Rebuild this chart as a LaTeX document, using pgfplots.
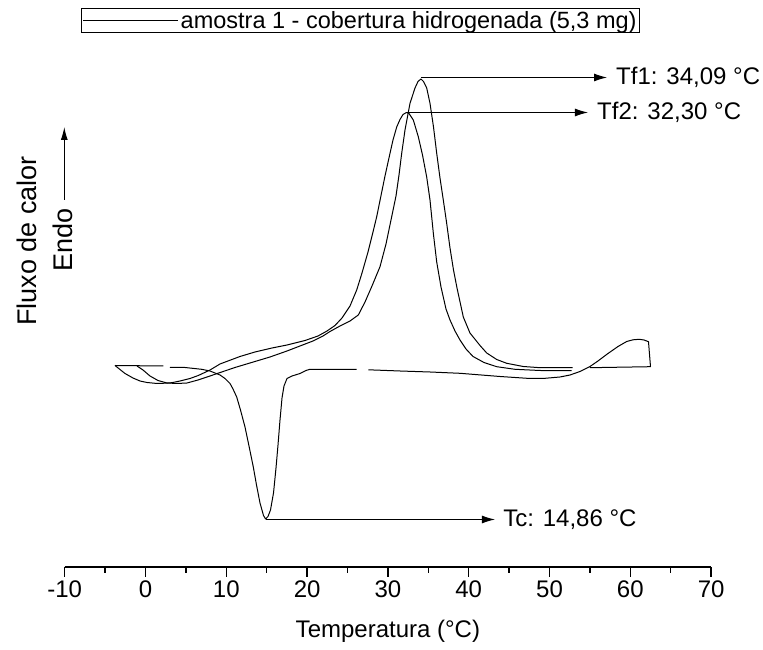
\documentclass[border=0pt]{standalone}
\usepackage{fontspec}
\setmainfont{Liberation Sans}
\usepackage{pgfplots}
\pgfplotsset{compat=1.18}
\usetikzlibrary{arrows.meta}
\begin{document}
\begin{tikzpicture}
\useasboundingbox (0,0) rectangle (763pt,650pt);
\begin{axis}[
  at={(64.7pt,83pt)}, anchor=south west,
  scale only axis, width=646.4pt, height=567pt,
  xmin=-10, xmax=70, ymin=0, ymax=567,
  clip=false,
  axis x line*=bottom, axis y line=none, ytick=\empty,
  x axis line style={-, line width=1.4pt},
  xtick={-10,0,...,70}, minor x tick num=1,
  tick align=outside,
  major tick length=10pt, minor tick length=6pt,
  every tick/.append style={black, line width=1.4pt},
  /pgf/number format/assume math mode=true,
  ticklabel style={font=\fontsize{24}{28}\selectfont},
  xlabel={Temperatura (°C)},
  xlabel style={at={(axis description cs:0.5,-0.113)}, anchor=center, font=\fontsize{24}{28}\selectfont},
  legend style={at={(0.890,0.986)}, anchor=north east, draw=black, line width=0.8pt,
    font=\fontsize{23.5}{27}\selectfont, inner sep=1pt, cells={anchor=west}},
  legend image code/.code={\draw[#1] (0pt,0pt) -- (95pt,0pt);},
]
% heating curve with peak Tf1
\addplot[black, line width=1pt, line join=round] coordinates {
(-1.052,201) (-0.309,197) (0.557,191) (1.547,186.5) (2.661,184) (3.899,183.5)
(5.136,184) (6.498,187) (7.983,191) (9.431,195) (11.077,199.5) (12.933,204)
(15.408,210) (17.512,216) (19.121,221) (20.730,226) (21.968,231) (22.834,235.5)
(24.072,241) (25.309,246) (26.337,252) (27.166,265) (28.032,281) (29.022,300.3)
(29.765,323) (30.470,350.3) (31.002,371) (31.374,392) (31.708,413.7) (32.116,437)
(32.735,463.7) (33.354,479) (33.725,485.5) (34.09,488) (34.406,485.5) (34.802,479)
(35.210,463.7) (35.644,440) (36.040,413.7) (36.448,389) (36.856,367) (37.252,345)
(37.686,319) (38.119,297) (38.552,279) (39.332,250) (40.157,234) (41.399,221.5)
(42.228,214) (43.465,207.5) (44.703,203.7) (46.757,200.5) (48.824,199.3) (52.871,199.3)
};
\addlegendentry{amostra 1 - cobertura hidrogenada (5,3 mg)}
% heating curve with peak Tf2
\addplot[black, line width=1pt, line join=round, forget plot] coordinates {
(-3.775,201.5) (-3.156,197.5) (-2.537,193.5) (-1.547,189) (-0.681,186) (0.186,184.5)
(1.176,183.7) (2.166,183.7) (3.243,184.3) (4.270,186) (5.507,188.5) (6.535,191.5)
(7.983,197) (9.220,203) (11.696,210.5) (13.552,215) (15.656,219) (17.512,222)
(19.740,226.5) (21.349,231) (22.463,236) (23.453,241.5) (24.319,249) (25.309,261)
(26.139,277) (26.795,294) (27.537,315) (28.156,335) (28.614,350.3) (29.022,366.5)
(29.641,391) (30.260,413.7) (30.631,427) (31.089,440) (31.497,447.5) (31.869,452.5)
(32.30,454.5) (32.611,453.5) (33.144,447) (33.762,430.3) (34.282,412) (34.802,390)
(35.210,367) (35.619,334) (36.040,305) (36.572,280) (37.191,258) (37.686,247)
(38.304,236) (38.923,227) (39.666,218) (40.532,210.5) (41.894,204.5) (43.465,200.3)
(45.730,197.7) (48.824,196.5) (52.748,196.3)
};
% cooling curve, three pieces
\addplot[black, line width=1pt, line join=round, forget plot] coordinates {
(55.012,199.3) (62.500,200.3) (62.252,225.3) (61.695,227) (61.114,227.7) (60.334,227.2)
(59.555,225.5) (58.478,220.5) (57.240,213.5) (56.002,206) (55.012,200.5) (53.775,195.5)
(52.537,192) (51.300,190) (49.443,188.7) (47.587,188.5) (43.874,190.5) (38.923,193.7)
(35.210,195) (31.497,196) (27.574,197.2)
};
\addplot[black, line width=1pt, line join=round, forget plot] coordinates {
(26.139,197.7) (20.359,197.7) (19.864,196.5) (19.121,193.5) (18.131,191) (17.512,188.5)
(17.141,181) (16.894,169) (16.646,147) (16.399,122) (16.151,99) (15.842,74)
(15.470,57) (15.161,50.5) (14.86,48) (14.604,51.5) (14.171,64) (13.738,82)
(13.342,100) (12.809,121) (12.314,140) (11.757,157) (11.287,170) (10.829,178)
(10.458,183.5) (9.839,188.5) (9.220,192) (7.983,196) (6.955,197.7) (4.889,199.5)
(3.032,199.7)
};
\addplot[black, line width=1pt, forget plot] coordinates {
(2.203,201) (-3.775,201.5)
};
% annotations
\draw[line width=1pt, -{Latex[length=13pt,width=8pt]}] (axis cs:34.09,489.5) -- (axis cs:57.12,489.5);
\node[anchor=west, font=\fontsize{24}{28}\selectfont] at (axis cs:57.82,489.5) {Tf1: 34,09 °C};
\draw[line width=1pt, -{Latex[length=13pt,width=8pt]}] (axis cs:32.30,454.5) -- (axis cs:54.76,454.5);
\node[anchor=west, font=\fontsize{24}{28}\selectfont] at (axis cs:55.47,454.5) {Tf2: 32,30 °C};
\draw[line width=1pt, -{Latex[length=13pt,width=8pt]}] (axis cs:14.86,47.5) -- (axis cs:43.25,47.5);
\node[anchor=west, font=\fontsize{24}{28}\selectfont] at (axis cs:43.84,47.5) {Tc: 14,86 °C};
\end{axis}
\node[rotate=90, font=\fontsize{27}{30}\selectfont] at (27pt,409pt) {Fluxo de calor};
\node[rotate=90, font=\fontsize{27}{30}\selectfont] at (63pt,410pt) {Endo};
\draw[line width=1pt, -{Latex[length=13pt,width=7pt]}] (64.3pt,450pt) -- (64.3pt,523pt);
\end{tikzpicture}
\end{document}
